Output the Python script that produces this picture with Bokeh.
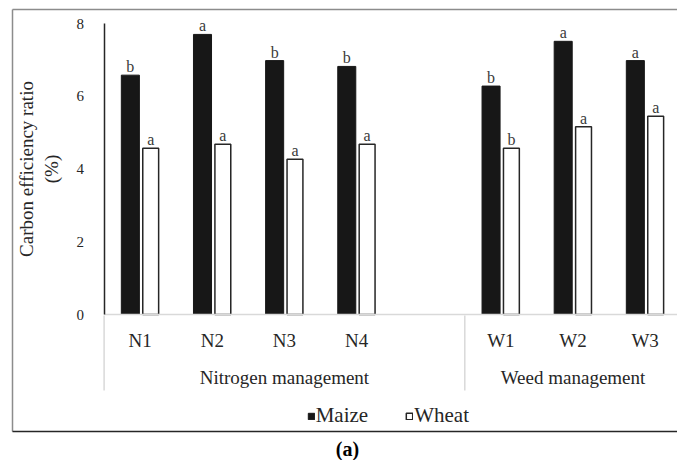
from bokeh.plotting import figure
from bokeh.models import (ColumnDataSource, Range1d, FixedTicker, LinearAxis,
                          Legend, LegendItem, Label)
from bokeh.transform import dodge
from bokeh.core.properties import value
from bokeh.embed import file_html
from bokeh.resources import INLINE

# Carbon efficiency ratio (%) by management treatment
groups = ["Nitrogen management"] * 4 + ["Weed management"] * 3
treatments = ["N1", "N2", "N3", "N4", "W1", "W2", "W3"]
maize = [6.58, 7.70, 6.98, 6.82, 6.28, 7.51, 6.98]
wheat = [4.57, 4.68, 4.27, 4.68, 4.57, 5.16, 5.45]
maize_sig = ["b", "a", "b", "b", "b", "a", "a"]
wheat_sig = ["a", "a", "a", "a", "b", "a", "a"]
y_ticks = [0, 2, 4, 6, 8]

SERIF = "Liberation Serif"
INK = "#262626"
RULE = "#d9d9d9"
W, H = 677, 460

# category slots: an empty slot closes the nitrogen group
slots = treatments[:4] + [""] + treatments[4:]
slot_group = groups[:4] + ["Nitrogen management"] + groups[4:]
centers = [slots.index(t) + 0.5 for t in treatments]
group_names = list(dict.fromkeys(groups))
group_start = [slot_group.index(g) for g in group_names]
group_mid = [(slot_group.index(g) + len(slot_group) - slot_group[::-1].index(g)) / 2
             for g in group_names]

# plot area geometry (pixels)
AXIS_X, ZERO_Y, SLOT_PX, UNIT_PX = 103.6, 314.0, 72.14, 36.375

source = ColumnDataSource(data=dict(
    x=centers, maize=maize, wheat=wheat,
    maize_sig=maize_sig, wheat_sig=wheat_sig,
))

p = figure(
    width=W, height=H,
    x_range=Range1d(-AXIS_X / SLOT_PX, (W - AXIS_X) / SLOT_PX),
    y_range=Range1d(-(H - ZERO_Y) / UNIT_PX, ZERO_Y / UNIT_PX),
    x_axis_type=None, y_axis_type=None,
    output_backend="svg", toolbar_location=None, min_border=0,
)
p.extra_x_ranges = {"px": Range1d(0, W)}
p.extra_y_ranges = {"px": Range1d(H, 0)}
p.background_fill_color = "white"
p.border_fill_color = "white"
p.outline_line_color = None
p.grid.visible = False

# chart frame
p.segment(x0=[12, 12], y0=[9, 9], x1=[12, W], y1=[431, 9],
          x_range_name="px", y_range_name="px", line_color="#8c8c8c", line_width=1.5)
p.segment(x0=[12], y0=[431], x1=[W], y1=[431],
          x_range_name="px", y_range_name="px", line_color=INK, line_width=1.5)
# group dividers under the category axis
p.segment(x0=group_start, y0=[315] * len(group_start), x1=group_start,
          y1=[390] * len(group_start), y_range_name="px", line_color=RULE, line_width=1.5)

r_maize = p.vbar(x=dodge("x", -0.136), top="maize", width=0.25, source=source,
                 fill_color="#171717", line_color="#171717", line_width=1)
r_wheat = p.vbar(x=dodge("x", 0.146), top="wheat", width=0.22, source=source,
                 fill_color="white", line_color=INK, line_width=1.5)

for col, off in (("maize", -0.136), ("wheat", 0.146)):
    p.text(x=dodge("x", off), y=col, text=col + "_sig", source=source,
           text_font=value(SERIF), text_font_size="16px", text_color="#3a3a3a",
           text_align="center", text_baseline="bottom")

# value axis
ya = LinearAxis(fixed_location=0, bounds=(0, 8), ticker=FixedTicker(ticks=y_ticks))
ya.minor_tick_line_color = None
ya.major_tick_line_color = None
ya.major_tick_in = 0
ya.major_tick_out = 0
ya.major_label_standoff = 20
ya.major_label_text_font = SERIF
ya.major_label_text_font_size = "15px"
ya.major_label_text_color = INK
ya.axis_line_color = INK
ya.axis_line_width = 1.5
ya.axis_label = "Carbon efficiency ratio\n(%)"
ya.axis_label_text_font = SERIF
ya.axis_label_text_font_size = "19px"
ya.axis_label_text_font_style = "normal"
ya.axis_label_text_color = INK
ya.axis_label_standoff = 12
p.add_layout(ya, "left")

# treatment axis
xa = LinearAxis(fixed_location=0, bounds=(0, len(slots)), ticker=FixedTicker(ticks=centers),
                major_label_overrides={c: t for c, t in zip(centers, treatments)})
xa.major_tick_line_color = None
xa.minor_tick_line_color = None
xa.major_tick_in = 0
xa.major_tick_out = 0
xa.axis_line_color = RULE
xa.axis_line_width = 1.5
xa.major_label_standoff = 15
xa.major_label_text_font = SERIF
xa.major_label_text_font_size = "19px"
xa.major_label_text_color = INK
p.add_layout(xa, "below")

# group axis
ga = LinearAxis(fixed_location=0, ticker=FixedTicker(ticks=group_mid),
                major_label_overrides={m: g for m, g in zip(group_mid, group_names)})
ga.major_tick_line_color = None
ga.minor_tick_line_color = None
ga.major_tick_in = 0
ga.major_tick_out = 0
ga.axis_line_color = None
ga.major_label_standoff = 52
ga.major_label_text_font = SERIF
ga.major_label_text_font_size = "19px"
ga.major_label_text_color = INK
p.add_layout(ga, "below")

legend = Legend(
    items=[LegendItem(label="Maize", renderers=[r_maize]),
           LegendItem(label="Wheat", renderers=[r_wheat])],
    orientation="horizontal", location=(306.7, 32),
    glyph_width=8, glyph_height=8, label_height=8, label_standoff=1,
    spacing=37, padding=0, margin=0,
    label_text_font=SERIF, label_text_font_size="21px", label_text_color=INK,
    border_line_color=None, background_fill_alpha=0,
)
p.add_layout(legend, "center")

p.add_layout(Label(x=347, y=448, x_range_name="px", y_range_name="px", text="(a)",
                   text_font=SERIF, text_font_size="20px", text_font_style="bold",
                   text_color="black", text_align="center", text_baseline="middle"))

open("out.html", "w").write(file_html(p, INLINE))
